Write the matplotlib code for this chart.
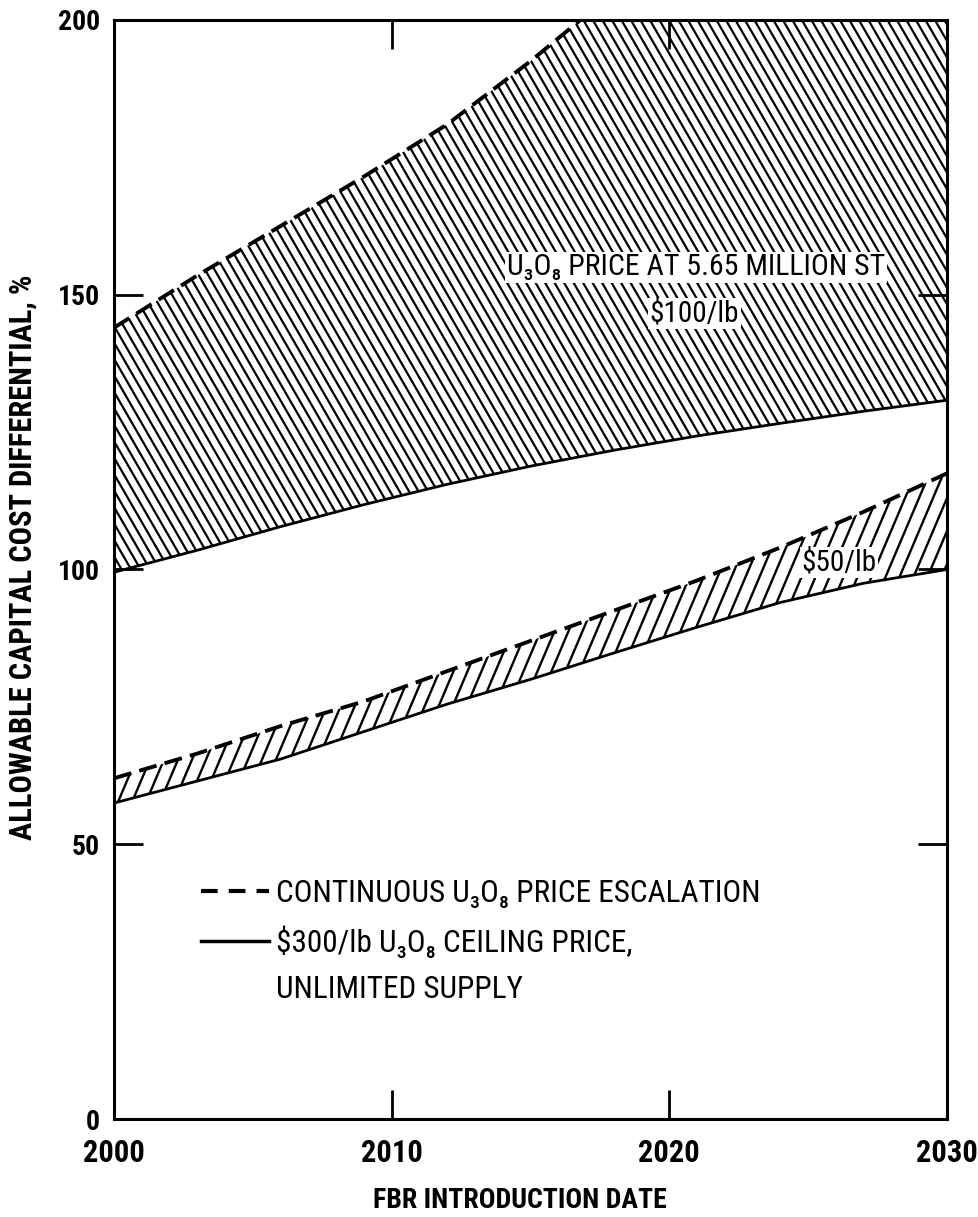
import numpy as np
import matplotlib.pyplot as plt
from matplotlib.collections import LineCollection
from matplotlib.lines import Line2D

plt.rcParams['font.family'] = ['Liberation Sans Narrow', 'Roboto Condensed',
                               'Roboto', 'DejaVu Sans']
plt.rcParams['font.stretch'] = 'condensed'
plt.rcParams['lines.scale_dashes'] = False

# FBR introduction date
years = [2000, 2003, 2006, 2009, 2012, 2015, 2018, 2021, 2024, 2027, 2030]
# $100/lb at 5.65 million ST
esc_100 = [144, 153.5, 162.5, 171.5, 181, 192.5, 205, 217, 229, 241, 253]
ceil_100 = [99.5, 103.5, 107.8, 111.8, 115.5, 118.8, 121.7, 124.3, 126.6, 128.8, 130.8]
# $50/lb
esc_50 = [62, 66.5, 71.5, 76, 81.5, 87, 92.5, 98, 104, 110.5, 117.5]
ceil_50 = [57.5, 61.5, 65.5, 70.5, 75.5, 80, 84.8, 89.5, 94, 97.5, 100]

xticks = [2000, 2010, 2020, 2030]
yticks = [0, 50, 100, 150, 200]


def add_hatch(ax, band, angle, spacing, lw):
    """parallel lines over the axes, clipped to the band polygon"""
    bb = ax.get_window_extent()
    w, h = bb.width, bb.height
    run = h / np.tan(np.radians(angle)) / w
    r = abs(run)
    step = spacing / w
    starts = np.arange(-r - step, 1 + r + step, step)
    segs = [[(x0, 0), (x0 + run, 1)] for x0 in starts]
    lc = LineCollection(segs, transform=ax.transAxes, colors='black',
                        linewidths=lw)
    ax.add_collection(lc, autolim=False)
    lc.set_clip_path(band.get_paths()[0], ax.transData)


fig = plt.figure(figsize=(9.79, 12.17), dpi=100)
ax = fig.add_axes([0.1164, 0.0805, 0.8509, 0.9031])
ax.set_xlim(2000, 2030)
ax.set_ylim(0, 200)

band100 = ax.fill_between(years, ceil_100, esc_100, facecolor='none',
                          edgecolor='none')
band50 = ax.fill_between(years, ceil_50, esc_50, facecolor='none',
                         edgecolor='none')
add_hatch(ax, band100, -60, 9.5, 1.6)
add_hatch(ax, band50, 67, 14, 1.7)

dash = (0, (13, 6))
ax.plot(years, esc_100, color='black', lw=2.8, ls=dash)
ax.plot(years, ceil_100, color='black', lw=2.0)
ax.plot(years, esc_50, color='black', lw=2.8, ls=dash)
ax.plot(years, ceil_50, color='black', lw=2.0)

box = dict(facecolor='white', edgecolor='none', pad=1)
ax.text(2020.96, 155, 'U₃O₈ PRICE AT 5.65 MILLION ST', ha='center',
        va='center', fontsize=21.5, bbox=box)
ax.text(2020.9, 146.6, '$100/lb', ha='center', va='center', fontsize=21,
        bbox=box)
ax.text(2026.1, 101.2, '$50/lb', ha='center', va='center', fontsize=21,
        bbox=box)

handles = [Line2D([], [], color='black', lw=3, ls=(0, (12, 8))),
           Line2D([], [], color='black', lw=2.5),
           Line2D([], [], color='none')]
labels = ['CONTINUOUS U₃O₈ PRICE ESCALATION',
          '$300/lb U₃O₈ CEILING PRICE,',
          'UNLIMITED SUPPLY']
ax.legend(handles, labels, loc='upper left', bbox_to_anchor=(0.104, 0.218),
          frameon=False, fontsize=22.5, handlelength=2.2, handletextpad=0.2,
          labelspacing=0.55, borderpad=0, borderaxespad=0)

ax.set_xticks(xticks)
ax.set_yticks(yticks)
ax.tick_params(direction='in', length=21, width=2, top=True, right=True)
ax.tick_params(axis='x', labelsize=22, pad=14)
ax.tick_params(axis='y', labelsize=20, pad=10)
for lbl in ax.get_xticklabels() + ax.get_yticklabels():
    lbl.set_fontweight('bold')
for sp in ax.spines.values():
    sp.set_linewidth(2.2)

ax.set_xlabel('FBR INTRODUCTION DATE', fontsize=20, fontweight='bold')
ax.xaxis.set_label_coords(0.487, -0.062)
ax.set_ylabel('ALLOWABLE CAPITAL COST DIFFERENTIAL, %', fontsize=22,
              fontweight='bold')
ax.yaxis.set_label_coords(-0.092, 0.511)

fig.savefig('out.png', dpi=100)
